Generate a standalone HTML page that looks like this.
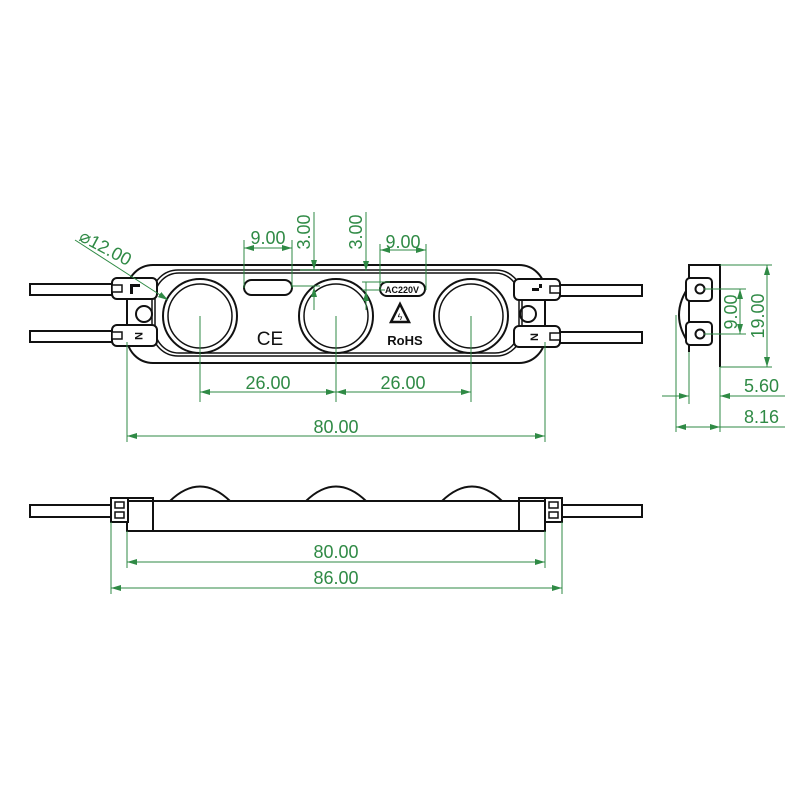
<!DOCTYPE html>
<html><head><meta charset="utf-8"><style>html,body{margin:0;padding:0;background:#fff}svg{display:block}</style></head>
<body>
<svg width="800" height="800" viewBox="0 0 800 800" xmlns="http://www.w3.org/2000/svg" font-family="Liberation Sans, sans-serif">
<defs>
<marker id="a" viewBox="0 0 10 6" refX="10" refY="3" markerWidth="10" markerHeight="6" orient="auto-start-reverse" markerUnits="userSpaceOnUse"><path d="M0,0L10,3L0,6z" fill="#2f8a45"/></marker>
</defs>
<rect width="800" height="800" fill="#fff"/>
<!-- TOP VIEW -->
<g fill="none" stroke="#111" stroke-width="2">
<rect x="30" y="284" width="82" height="11"/>
<rect x="30" y="331" width="82" height="11"/>
<rect x="560" y="285" width="82" height="11"/>
<rect x="560" y="332" width="82" height="11"/>
<rect x="127" y="265" width="418" height="98" rx="26"/>
<rect x="152" y="270" width="370" height="86" rx="26" stroke-width="1.5"/>
<rect x="155" y="273" width="364" height="80" rx="24" stroke-width="1.5"/>
<circle cx="200" cy="316" r="37"/><circle cx="200" cy="316" r="32" stroke-width="1.5"/>
<circle cx="336" cy="316" r="37"/><circle cx="336" cy="316" r="32" stroke-width="1.5"/>
<circle cx="471" cy="316" r="37"/><circle cx="471" cy="316" r="32" stroke-width="1.5"/>
<rect x="244" y="280" width="48" height="15" rx="7.5"/>
<rect x="380" y="282" width="45" height="14" rx="7"/>
<circle cx="144" cy="314" r="8"/><circle cx="528" cy="314" r="8"/>
<rect x="112" y="278" width="45" height="21" rx="5" fill="#fff"/>
<rect x="112" y="325" width="45" height="21" rx="5" fill="#fff"/>
<rect x="514" y="279" width="46" height="21" rx="5" fill="#fff"/>
<rect x="514" y="326" width="46" height="21" rx="5" fill="#fff"/>
<path d="M400,304 L391,322 L409,322 Z" stroke-width="2.5"/>
</g>
<g fill="#111">
<rect x="112" y="285" width="10" height="7" fill="#fff" stroke="#111" stroke-width="1.5"/>
<rect x="112" y="332" width="10" height="7" fill="#fff" stroke="#111" stroke-width="1.5"/>
<rect x="550" y="286" width="10" height="7" fill="#fff" stroke="#111" stroke-width="1.5"/>
<rect x="550" y="333" width="10" height="7" fill="#fff" stroke="#111" stroke-width="1.5"/>
<path d="M130,284h10v3h-7v7h-3z"/>
<path d="M542,288h-10v3h10z M539,284h3v7h-3z"/>
<text x="138" y="339" font-size="11" font-weight="bold" transform="rotate(90 138 336)" text-anchor="middle">N</text>
<text x="535" y="340" font-size="11" font-weight="bold" transform="rotate(-90 535 337)" text-anchor="middle">N</text>
<text x="402" y="293" font-size="9" font-weight="bold" text-anchor="middle">AC220V</text>
<text x="270" y="345" font-size="19" text-anchor="middle">CE</text>
<text x="405" y="345" font-size="13" font-weight="bold" text-anchor="middle">RoHS</text>
<text x="400" y="320" font-size="9" text-anchor="middle">ϟ</text>
</g>
<!-- SIDE VIEW -->
<g fill="none" stroke="#111" stroke-width="2">
<path d="M689,352 V265 H720 V367"/>
<path d="M690,285 Q668,315 690,345"/>
<rect x="686" y="278" width="26" height="23" rx="4" fill="#fff"/>
<rect x="686" y="322" width="26" height="23" rx="4" fill="#fff"/>
<circle cx="700" cy="289" r="4.5"/><circle cx="700" cy="334" r="4.5"/>
</g>
<!-- FRONT VIEW -->
<g fill="none" stroke="#111" stroke-width="2">
<rect x="30" y="505" width="82" height="12"/>
<rect x="560" y="505" width="82" height="12"/>
<path d="M170,501 Q200,472 230,501"/>
<path d="M306,501 Q336,472 366,501"/>
<path d="M442,501 Q472,472 502,501"/>
<rect x="127" y="501" width="418" height="30"/>
<rect x="127" y="498" width="26" height="33"/>
<rect x="519" y="498" width="26" height="33"/>
<rect x="111" y="498" width="17" height="24" fill="#fff"/>
<rect x="545" y="498" width="17" height="24" fill="#fff"/>
<path d="M115,502h9v6h-9z M115,512h9v6h-9z M549,502h9v6h-9z M549,512h9v6h-9z" stroke-width="1.5"/>
</g>
<!-- DIMENSIONS -->
<g stroke="#2f8a45" stroke-width="1" fill="none">
<path d="M127,342V442 M545,342V442 M200,316V402 M336,316V402 M471,316V402"/>
<line x1="127" y1="436" x2="545" y2="436" marker-start="url(#a)" marker-end="url(#a)"/>
<line x1="200" y1="392" x2="336" y2="392" marker-start="url(#a)" marker-end="url(#a)"/>
<line x1="336" y1="392" x2="471" y2="392" marker-start="url(#a)" marker-end="url(#a)"/>
<path d="M244,240V288 M292,240V288 M380,244V290 M426,244V290"/>
<line x1="244" y1="248" x2="292" y2="248" marker-start="url(#a)" marker-end="url(#a)"/>
<line x1="380" y1="250" x2="426" y2="250" marker-start="url(#a)" marker-end="url(#a)"/>
<path d="M314,212V270 M366,212V270 M292,286H320 M362,290H385 M366,282V300 M320,270H300 M362,282H390"/>
<line x1="314" y1="250" x2="314" y2="270" marker-end="url(#a)"/>
<line x1="314" y1="310" x2="314" y2="287" marker-end="url(#a)"/>
<line x1="366" y1="250" x2="366" y2="271" marker-end="url(#a)"/>
<line x1="366" y1="310" x2="366" y2="291" marker-end="url(#a)"/>
<line x1="75" y1="240" x2="168" y2="300" marker-end="url(#a)"/>
<path d="M720,265H772 M704,289H746 M704,334H746 M720,367H772"/>
<line x1="767" y1="265" x2="767" y2="367" marker-start="url(#a)" marker-end="url(#a)"/>
<line x1="740" y1="289" x2="740" y2="334" marker-start="url(#a)" marker-end="url(#a)"/>
<path d="M676,315V432 M689,352V404 M720,367V432"/>
<line x1="662" y1="396" x2="689" y2="396" marker-end="url(#a)"/>
<line x1="785" y1="396" x2="720" y2="396" marker-end="url(#a)"/>
<path d="M720,427H785"/>
<line x1="676" y1="427" x2="720" y2="427" marker-start="url(#a)" marker-end="url(#a)"/>
<path d="M127,531V568 M545,531V568 M111,522V594 M562,522V594"/>
<line x1="127" y1="562" x2="545" y2="562" marker-start="url(#a)" marker-end="url(#a)"/>
<line x1="111" y1="588" x2="562" y2="588" marker-start="url(#a)" marker-end="url(#a)"/>
</g>
<g fill="#2f8a45" font-size="18">
<text x="336" y="433" text-anchor="middle">80.00</text>
<text x="268" y="389" text-anchor="middle">26.00</text>
<text x="403" y="389" text-anchor="middle">26.00</text>
<text x="268" y="244" text-anchor="middle">9.00</text>
<text x="403" y="248" text-anchor="middle">9.00</text>
<text transform="translate(310,232) rotate(-90)" text-anchor="middle">3.00</text>
<text transform="translate(362,232) rotate(-90)" text-anchor="middle">3.00</text>
<text transform="translate(78,240) rotate(28)">⌀12.00</text>
<text transform="translate(737,312) rotate(-90)" text-anchor="middle">9.00</text>
<text transform="translate(764,316) rotate(-90)" text-anchor="middle">19.00</text>
<text x="744" y="392">5.60</text>
<text x="744" y="423">8.16</text>
<text x="336" y="558" text-anchor="middle">80.00</text>
<text x="336" y="584" text-anchor="middle">86.00</text>
</g>
</svg>
</body></html>
